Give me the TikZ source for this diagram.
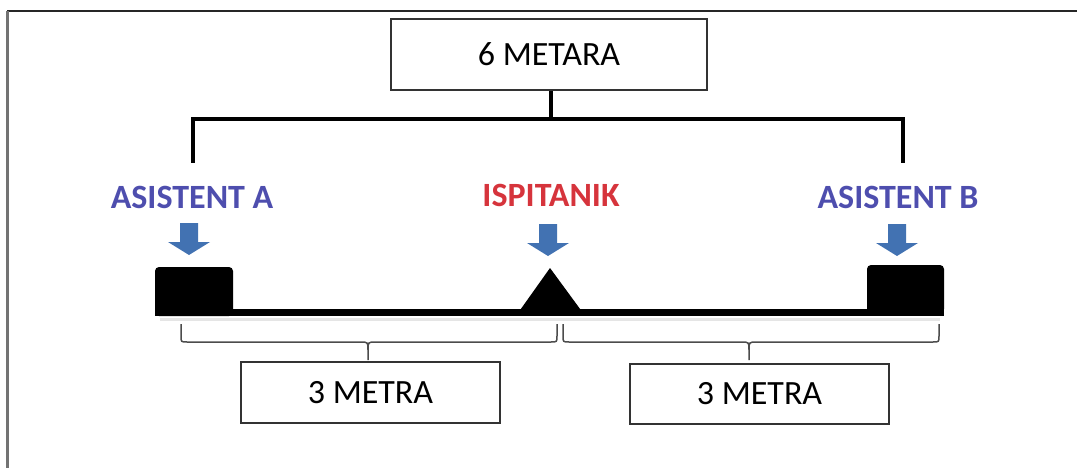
\documentclass[tikz,border=0pt]{standalone}
\usepackage{fontspec}
\setmainfont{Carlito}
\definecolor{assistblue}{HTML}{4E4EAE}
\definecolor{testred}{HTML}{D6343C}
\definecolor{pointblue}{HTML}{4272B2}
\newcommand{\bigsize}{\fontsize{34}{40}\selectfont}
% brace from #1 to #2, tip at #3
\newcommand{\spanbrace}[3]{
    \draw[span] (#1,324) -- (#1,336) .. controls (#1,342) .. (#1+6,342) -- (#3-8,342) .. controls (#3,342) .. (#3,350) -- (#3,360);
    \draw[span] (#2,324) -- (#2,336) .. controls (#2,342) .. (#2-6,342) -- (#3+8,342) .. controls (#3,342) .. (#3,350);
}

\begin{document}
\begin{tikzpicture}[x=1pt,y=-1pt]
                        \tikzstyle{box}=[draw=black!80, line width=1.4pt, fill=white, inner sep=0pt, minimum width=259pt, minimum height=61pt, font=\bigsize]
                        \tikzstyle{role}=[anchor=base, font=\bigsize\bfseries]
                        \tikzstyle{block}=[fill=black, rounded corners=4pt, inner sep=0pt]
                        \tikzstyle{bracket}=[line width=4pt, black]
                        \tikzstyle{span}=[draw=black!70, line width=1.5pt]
                        \tikzset{pics/pointer/.style={code={
                            \fill[pointblue] (-9,0) -- (-9,19) -- (-21,19) -- (0,32) -- (21,19) -- (9,19) -- (9,0) -- cycle;
                        }}}
                        \useasboundingbox (0,0) rectangle (1077,468);
                        % frame
                        \draw[line width=2pt, black!85] (7,11) -- (1077,11);
                        \draw[line width=3pt, black!55] (7,11) -- (7,468);
                        % total length
                        \node[box, minimum width=316pt, minimum height=71pt] (total) at (549,54.5) {6 METARA};
                        \coordinate (mid) at (551,119);
                        \coordinate (endA) at (193,163);
                        \coordinate (endB) at (903,163);
                        \draw[bracket] (total.south -| mid) -- (mid);
                        \draw[bracket] (endA) |- (mid) -| (endB);
                        % persons
                        \node[role, text=assistblue] (asA) at (192,208) {ASISTENT A};
                        \node[role, text=testred] (test) at (551,207) {ISPITANIK};
                        \node[role, text=assistblue] (asB) at (898,208) {ASISTENT B};
                        \pic (ptA) at (189,223) {pointer};
                        \pic (ptT) at (548,224) {pointer};
                        \pic (ptB) at (897,224) {pointer};
                        % beam
                        \draw[black!10, line width=3pt] (160,319.5) -- (940,319.5);
                        \fill[black] (155,309) rectangle (944,316);
                        \node[block, minimum width=78pt, minimum height=49pt] (wA) at (194,291.5) {};
                        \node[block, minimum width=77pt, minimum height=48pt] (wB) at (905.5,289) {};
                        \fill[black] (518,313) -- (550,268) -- (583,313) -- cycle;
                        % halves
                        \spanbrace{181}{557}{368}
                        \spanbrace{563}{939}{749}
                        \node[box] (halfA) at (370.5,392.5) {3 METRA};
                        \node[box, minimum height=60pt] (halfB) at (759.5,394) {3 METRA};
                    \end{tikzpicture}
\end{document}
